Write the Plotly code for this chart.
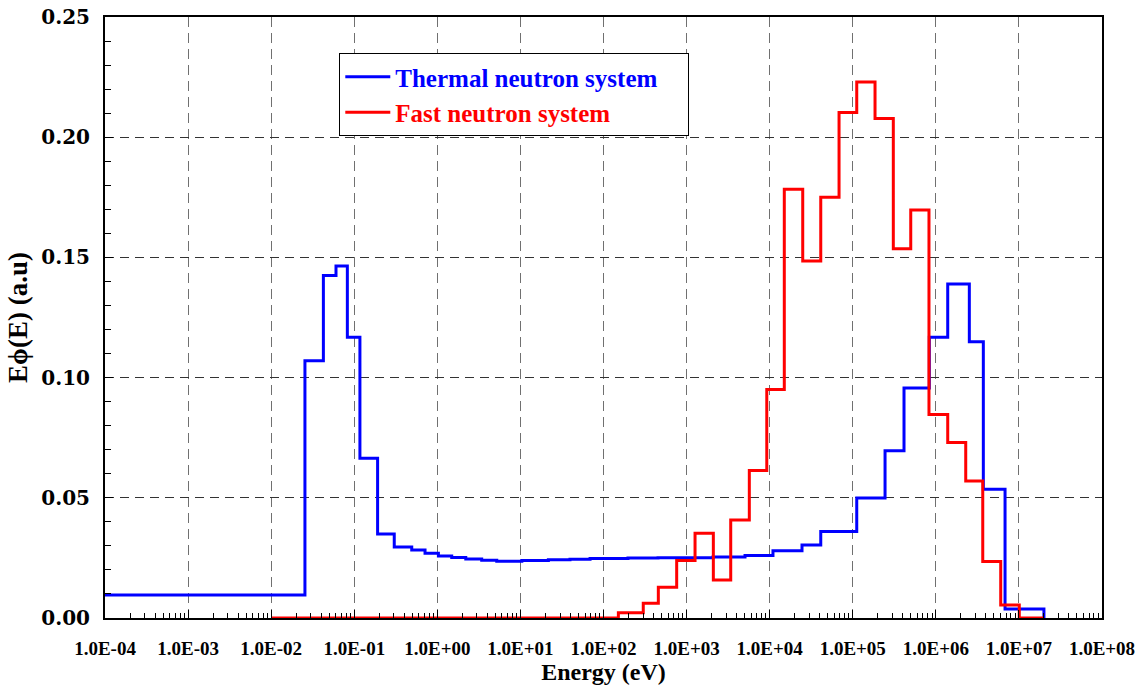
import numpy as np
import plotly.graph_objects as go

# ---- data (group boundaries in eV and E*phi(E) values per group) ----
thermal_edges = [1e-4, 0.0255, 0.0425, 0.0603, 0.0826, 0.117, 0.191, 0.303, 0.492, 0.711,
                 1.03, 1.49, 2.20, 3.42, 5.19, 10.4, 21.7, 39.5, 68.9, 197, 453, 2080, 5050,
                 10960, 24500, 41200, 111700, 244800, 414000, 835000, 1.39e6, 2.53e6,
                 3.73e6, 6.81e6, 2.0e7]
thermal_values = [0.0096, 0.107, 0.1425, 0.1464, 0.1168, 0.0665, 0.0349, 0.0295, 0.0283,
                  0.0269, 0.0258, 0.0252, 0.0245, 0.0240, 0.0236, 0.0239, 0.0242, 0.0244,
                  0.0248, 0.0250, 0.0251, 0.0254, 0.0260, 0.0280, 0.0304, 0.0360, 0.0499,
                  0.0696, 0.0957, 0.1168, 0.1389, 0.1149, 0.0536, 0.0037]

fast_edges = [0.01, 151, 301, 457, 760, 1264, 2099, 3398, 5690, 9230, 15000, 25000, 41200,
              68400, 111700, 185400, 307700, 498800, 827000, 1.39e6, 2.29e6, 3.67e6,
              6.04e6, 1.01e7, 2.0e7]
fast_values = [0.0, 0.0022, 0.0061, 0.0128, 0.0239, 0.0353, 0.0158, 0.0408, 0.0614, 0.0950,
               0.1783, 0.1485, 0.1750, 0.2103, 0.2230, 0.2078, 0.1536, 0.1697, 0.0846,
               0.0730, 0.0570, 0.0235, 0.0054, 0.0]

x_tick_vals = [1e-4, 1e-3, 1e-2, 1e-1, 1e0, 1e1, 1e2, 1e3, 1e4, 1e5, 1e6, 1e7, 1e8]
x_tick_text = ["1.0E-04", "1.0E-03", "1.0E-02", "1.0E-01", "1.0E+00", "1.0E+01", "1.0E+02",
               "1.0E+03", "1.0E+04", "1.0E+05", "1.0E+06", "1.0E+07", "1.0E+08"]
y_tick_vals = [0.0, 0.05, 0.10, 0.15, 0.20, 0.25]

series_names = ["Thermal neutron system", "Fast neutron system"]
series_colors = ["#0000FF", "#FF0000"]

minor_x = [m * 10.0 ** k for k in range(-4, 8) for m in range(2, 10)]

fig = go.Figure()
for edges, vals, name, col in [(thermal_edges, thermal_values, series_names[0], series_colors[0]),
                               (fast_edges, fast_values, series_names[1], series_colors[1])]:
    fig.add_trace(go.Scatter(
        x=edges, y=list(vals) + [0.0], mode="lines", line_shape="hv",
        line=dict(color=col, width=3),
        name="<span style='color:%s'>%s</span>" % (col, name) + ("&nbsp;" * 4 if name.startswith("Thermal") else ""),
    ))

fig.update_layout(
    width=1138, height=685,
    margin=dict(l=105, r=36, t=17, b=67),
    paper_bgcolor="white", plot_bgcolor="white",
    font=dict(family="Liberation Serif", color="black"),
    showlegend=True,
    legend=dict(
        x=0.235, y=0.94, xanchor="left", yanchor="top",
        bgcolor="white", bordercolor="black", borderwidth=1,
        font=dict(family="Liberation Serif", size=25, color="black", weight="bold"),
        itemwidth=45,
    ),
)

fig.update_xaxes(
    type="log", range=[-4, 8], automargin=False,
    tickmode="array", tickvals=x_tick_vals, ticktext=x_tick_text,
    tickfont=dict(family="Liberation Serif", size=19, weight="bold"),
    ticks="inside", ticklen=8, tickcolor="black", tickwidth=1,
    ticklabelstandoff=12,
    showline=True, linecolor="black", linewidth=2, mirror=True,
    showgrid=True, gridcolor="#707070", gridwidth=1, griddash="10px,6px",
    minor=dict(tickmode="array", tickvals=minor_x, ticks="inside", ticklen=5,
               tickcolor="black", showgrid=False),
    title=dict(text="Energy (eV)", font=dict(family="Liberation Serif", size=24, weight="bold"),
               standoff=2),
    zeroline=False,
)
fig.update_yaxes(
    range=[0, 0.25], automargin=False,
    tickmode="array", tickvals=y_tick_vals, tickformat=".2f",
    tickfont=dict(family="DejaVu Serif", size=20, weight="bold"),
    ticks="inside", ticklen=8, tickcolor="black", tickwidth=1,
    ticklabelstandoff=9,
    showline=True, linecolor="black", linewidth=2, mirror=True,
    showgrid=True, gridcolor="#333333", gridwidth=1, griddash="9px,6px",
    minor=dict(dtick=0.01, ticks="inside", ticklen=6, tickcolor="black", showgrid=False),
    title=dict(text="E\u03d5(E) (a.u)", font=dict(family="Liberation Serif", size=27, weight="bold"),
               standoff=6),
    zeroline=False,
)

fig.write_html("out.html")
